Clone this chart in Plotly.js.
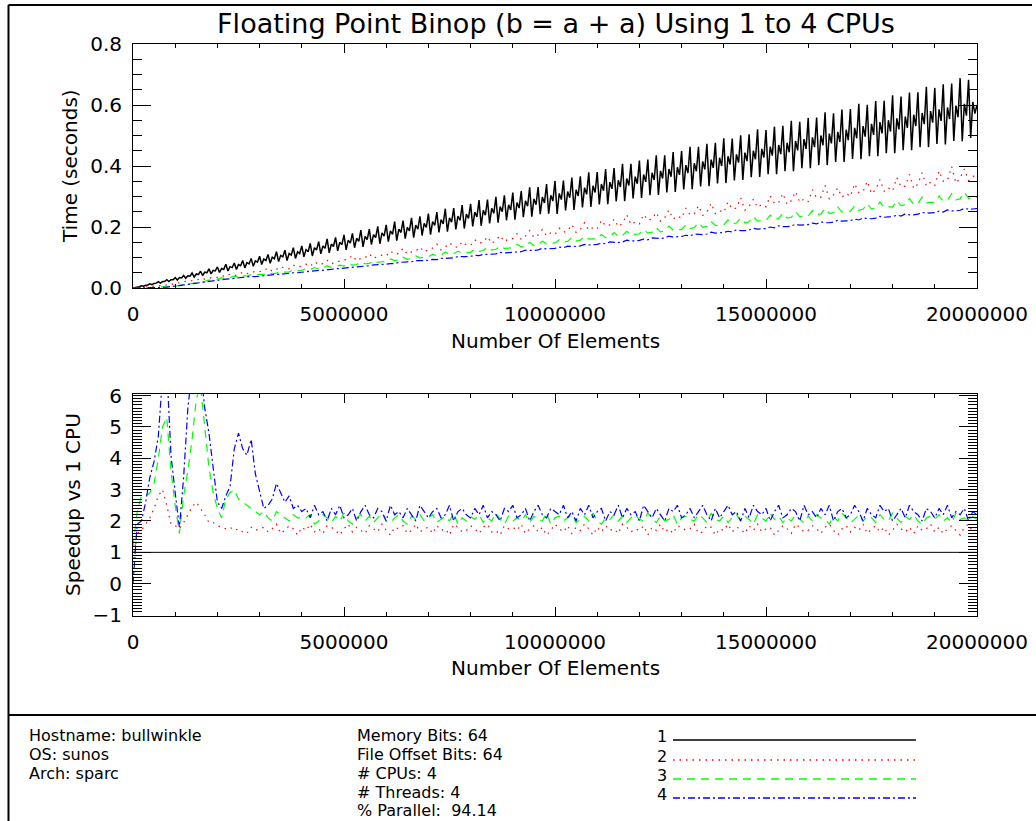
<!DOCTYPE html>
<html><head><meta charset="utf-8">
<script src="https://cdn.plot.ly/plotly-3.0.1.min.js"></script>
<style>html,body{margin:0;padding:0;background:#fff;}#chart{width:1036px;height:821px;}</style>
</head><body><div id="chart"></div>
<script>
// ---------------- DATA ----------------
const chartTitle = "Floating Point Binop (b = a + a) Using 1 to 4 CPUs";
const xAxisTitle = "Number Of Elements";
const timeAxisTitle = "Time (seconds)";
const speedAxisTitle = "Speedup vs 1 CPU";
const seriesLabels = ["1", "2", "3", "4"];
const elementRange = [0, 20000000];
const fineStep = 50000;     // elements between samples, 1 CPU timing
const coarseStep = 100000;  // elements between samples, other series

// time with 1 CPU, milliseconds
const time1cpuMs = [
0,1,3,4,7,6,9,10,14,11,15,16,21,16,21,21,27,21,27,27,
34,26,34,33,41,32,40,39,49,36,46,44,55,41,52,50,63,46,58,56,
69,51,64,61,78,56,70,67,82,61,77,73,90,66,83,79,97,71,89,85,
104,77,95,90,110,81,101,96,119,87,107,102,124,90,113,108,132,97,119,113,
138,102,126,119,146,105,132,125,152,112,138,130,161,115,144,136,166,122,150,142,
174,125,157,147,179,132,163,153,190,135,169,159,193,142,175,165,202,145,181,170,
207,152,187,176,218,155,193,182,221,162,199,187,230,165,206,193,235,172,212,199,
244,175,218,205,249,182,224,210,260,185,230,216,262,192,236,222,272,195,242,228,
276,202,249,233,288,204,255,239,290,212,261,245,299,214,267,250,304,222,273,256,
313,224,280,262,318,232,286,268,330,234,292,273,331,242,298,279,341,244,304,285,
351,243,310,290,352,254,316,296,362,256,322,302,366,264,329,307,379,266,335,313,
380,274,341,319,390,275,347,325,393,284,353,331,407,285,359,336,407,294,365,342,
418,295,372,348,421,304,378,354,435,305,384,359,435,313,390,365,446,315,396,371,
449,323,403,377,463,324,409,383,463,333,415,389,473,334,421,394,476,343,427,400,
491,344,432,405,490,353,438,411,501,354,444,416,504,363,450,422,520,364,456,428,
518,373,463,434,529,373,469,439,532,383,476,445,548,383,482,451,545,393,488,456,
557,393,494,462,559,403,500,468,576,403,506,474,573,413,512,479,585,413,519,485,
587,423,525,491,604,422,531,496,601,432,538,502,613,432,544,507,614,442,550,513,
632,442,556,520,628,452,562,525,641,452,568,531,642,462,574,537,660,462,580,542,
656,472,586,548,668,471,592,554,670,482,598,560,688,481,604,565,683,492,610,572,600];

// time with 2 CPUs, milliseconds
const time2cpuMs = [
0,1,2,3,4,6,7,7,9,11,
16,17,21,22,25,26,30,29,31,36,
35,40,38,45,41,44,52,47,50,55,
54,57,66,55,61,70,64,63,75,69,
72,78,71,86,77,80,91,79,85,88,
90,95,107,89,97,99,112,97,104,108,
105,121,111,113,130,111,118,121,134,118,
126,131,144,125,134,148,137,133,152,141,
140,158,147,150,168,146,156,172,152,161,
162,178,159,170,188,165,174,192,171,181,
176,196,183,187,208,182,192,214,190,198,
193,222,204,207,226,201,212,240,208,217,
210,241,222,226,248,219,230,256,226,236,
229,262,240,243,270,238,249,278,244,254,
248,282,259,262,296,255,268,291,264,274,
266,302,277,280,310,274,286,316,281,292,
283,322,295,298,336,292,305,328,298,310,
300,342,313,316,350,309,323,356,317,329,
318,362,331,334,372,326,341,378,334,347,
336,384,350,353,398,344,360,390,352,366,
368];

// time with 3 CPUs, milliseconds
const time3cpuMs = [
0,0,1,1,2,2,3,3,4,5,
6,9,11,12,14,18,19,22,26,27,
29,33,31,35,38,36,41,39,44,42,
45,44,50,47,49,55,52,53,59,56,
58,63,60,67,63,66,73,68,70,75,
72,79,75,77,85,79,81,89,84,86,
87,95,90,92,101,94,97,105,99,101,
102,111,105,108,118,109,112,121,114,116,
117,127,120,123,134,124,127,137,130,131,
132,143,135,138,150,139,142,153,145,147,
147,158,150,153,166,154,157,170,160,161,
162,175,165,168,182,169,172,186,175,176,
177,191,180,183,198,184,187,203,190,191,
192,207,195,198,214,199,202,218,205,206,
207,223,210,213,229,214,217,234,219,221,
221,239,225,228,245,229,232,250,234,236,
236,254,240,243,261,244,247,266,249,251,
251,270,255,258,277,259,262,282,264,266,
266,286,270,273,293,274,277,298,279,281,
281,302,285,288,309,289,292,314,294,296,
296];

// time with 4 CPUs, milliseconds
const time4cpuMs = [
0,0,0,1,1,1,2,2,3,4,
5,8,10,12,14,17,18,20,23,24,
26,28,29,30,32,33,34,36,38,37,
39,40,41,44,45,45,47,49,50,50,
52,54,54,57,58,58,60,63,63,64,
65,67,67,70,71,71,73,76,76,77,
78,80,80,84,84,84,86,90,89,90,
91,94,93,97,97,97,99,103,102,103,
104,107,106,110,110,110,112,117,115,116,
117,120,119,124,123,123,125,130,128,129,
130,134,132,137,136,136,138,143,141,142,
143,147,145,151,149,149,151,157,154,155,
156,160,158,164,162,162,164,170,167,168,
169,173,171,177,175,175,177,183,180,181,
182,186,184,191,188,188,190,196,193,194,
195,200,197,204,201,201,203,209,206,207,
208,213,210,217,214,214,216,222,219,220,
221,226,223,230,227,227,229,235,232,233,
234,239,236,243,240,240,242,248,245,246,
247,252,249,256,253,253,255,261,258,259,
260];

// speedup vs 1 CPU
const speedup1cpu = [1, 1];
const speedup2cpu = [
0.8,1.6,1.7,1.9,2.1,2.4,2.8,3.0,2.5,1.9,
1.85,1.75,1.95,2.2,2.45,2.6,2.4,2.2,1.95,1.95,
1.85,1.8,1.75,1.8,1.7,1.75,1.65,1.6,1.8,1.7,1.75,
1.8,1.65,1.75,1.9,1.6,1.7,1.85,1.75,1.55,1.8,
1.7,1.9,1.65,1.75,1.6,1.85,1.8,1.7,1.55,1.75,
1.9,1.65,1.8,1.7,1.6,1.85,1.75,1.65,1.9,1.7,
1.55,1.8,1.75,1.85,1.6,1.7,1.9,1.65,1.75,1.8,
1.6,1.85,1.7,1.75,1.55,1.9,1.8,1.65,1.7,1.85,
1.75,1.6,1.8,1.9,1.65,1.7,1.55,1.85,1.75,1.8,
1.7,1.9,1.6,1.75,1.85,1.65,1.8,1.55,1.7,1.9,
1.75,1.65,1.85,1.6,1.8,1.7,1.9,1.75,1.55,1.8,
1.65,1.85,1.7,1.75,1.6,1.9,1.8,1.65,1.75,1.7,
1.85,1.55,1.8,1.7,1.9,1.65,1.75,1.6,1.85,1.8,
1.7,1.75,1.9,1.6,1.65,1.85,1.8,1.55,1.75,1.7,
1.9,1.65,1.8,1.75,1.6,1.85,1.7,1.9,1.65,1.75,
1.8,1.55,1.7,1.85,1.75,1.6,1.9,1.8,1.65,1.7,
1.85,1.75,1.6,1.8,1.9,1.7,1.55,1.75,1.85,1.65,
1.8,1.7,1.9,1.6,1.75,1.85,1.65,1.8,1.55,1.7,
1.9,1.75,1.65,1.8,1.6,1.85,1.7,1.75,1.9,1.65,
1.8,1.6,1.75,1.85,1.7,1.55,1.8,1.9,1.65,1.75];
const speedup3cpu = [
1.2,2.3,2.8,2.8,2.9,3.2,4.0,5.0,5.3,3.6,
2.5,1.6,2.8,3.6,4.6,5.9,6.3,5.0,3.7,2.9,
2.4,2.1,2.7,2.9,3.0,2.7,2.6,2.5,2.4,2.3,
2.2,2.3,2.1,2.0,2.3,2.2,2.1,2.0,2.2,2.1,2.1,
2.1,2.2,1.9,2.0,2.2,2.1,1.95,2.15,2.0,2.25,
2.0,1.9,2.1,2.2,2.0,2.15,1.95,2.1,2.25,2.0,
1.95,2.1,2.2,2.0,1.9,2.15,2.05,2.2,2.0,2.1,
2.2,1.95,2.05,2.15,2.0,2.25,1.9,2.1,2.0,2.15,
2.05,2.2,1.95,2.1,2.0,2.25,2.05,1.9,2.15,2.0,
2.1,2.0,2.2,1.95,2.15,2.05,2.0,2.25,1.9,2.1,
2.15,2.0,2.1,2.2,1.95,2.05,2.15,2.0,2.25,2.0,
1.9,2.1,2.05,2.2,2.0,2.15,1.95,2.1,2.2,2.05,
2.0,2.25,2.1,1.95,2.15,2.0,2.05,2.2,1.9,2.1,
2.15,2.05,2.0,2.2,2.1,1.95,2.25,2.05,2.0,2.15,
1.95,2.1,2.2,2.0,2.15,2.05,1.9,2.2,2.1,2.0,
2.25,2.05,2.15,1.95,2.1,2.0,2.2,2.05,1.95,2.15,
2.0,2.2,2.1,2.05,1.9,2.15,2.0,2.25,2.1,1.95,
2.05,2.2,2.0,2.15,2.1,1.95,2.2,2.05,2.0,2.25,
2.1,1.95,2.15,2.05,2.2,2.0,1.9,2.1,2.15,2.05,
2.2,2.0,2.1,1.95,2.25,2.05,2.1,2.0,2.15,2.05];
const speedup4cpu = [
0.0,1.9,2.0,2.6,3.4,3.9,4.7,6.6,6.9,4.1,
2.9,1.8,3.4,5.6,6.8,7.2,6.9,5.6,4.8,3.6,
2.6,2.4,2.8,3.1,4.3,4.8,4.3,4.1,4.6,3.5,
2.9,2.4,2.5,2.7,3.2,2.9,2.6,2.8,2.4,2.5,2.3,
2.4,2.1,2.5,2.2,2.3,2.0,2.4,2.2,2.5,2.1,
2.2,2.4,2.0,2.3,2.5,2.2,2.1,2.4,2.3,2.0,
2.5,2.2,2.3,2.1,2.4,2.2,2.0,2.5,2.3,2.1,
2.3,2.4,2.1,2.2,2.5,2.0,2.3,2.4,2.2,2.1,
2.4,2.2,2.5,2.1,2.3,2.2,2.0,2.4,2.3,2.5,
2.1,2.2,2.4,2.0,2.3,2.5,2.2,2.1,2.4,2.3,
2.2,2.5,2.1,2.3,2.0,2.4,2.2,2.5,2.1,2.3,
2.4,2.0,2.3,2.2,2.5,2.1,2.4,2.2,2.3,2.0,
2.5,2.3,2.1,2.4,2.2,2.0,2.4,2.3,2.5,2.1,
2.2,2.4,2.1,2.3,2.5,2.2,2.0,2.4,2.1,2.3,
2.5,2.2,2.3,2.0,2.4,2.1,2.5,2.3,2.2,2.4,
2.0,2.3,2.5,2.1,2.2,2.4,2.3,2.0,2.5,2.2,
2.3,2.1,2.4,2.2,2.5,2.0,2.3,2.4,2.1,2.2,
2.5,2.3,2.0,2.4,2.2,2.1,2.5,2.3,2.4,2.0,
2.2,2.4,2.1,2.5,2.3,2.2,2.0,2.4,2.3,2.1,
2.4,2.2,2.5,2.1,2.3,2.2,2.4,2.0,2.3,2.2];

const hostInfo = ["Hostname: bullwinkle", "OS: sunos", "Arch: sparc"];
const runInfo = ["Memory Bits: 64", "File Offset Bits: 64", "# CPUs: 4", "# Threads: 4", "% Parallel:\u00a0\u00a094.14"];

// ---------------- STYLE / LAYOUT ----------------
const W = 1036, H = 821;
const FONT = "DejaVu Sans, Liberation Sans, sans-serif";
const colors = ["#000000", "#ff0000", "#00ff00", "#0000ff"];
const widths = [1.5, 1.2, 1.2, 1.2];
const dashes = ["solid", "1.5px,5px", "8px,6px", "7px,3px,2px,3px"];
const px = v => v / W;
const py = v => 1 - v / H;
const ms = a => a.map(v => v / 1000);

const traces = [
  {x0: 0, dx: fineStep, y: ms(time1cpuMs), xaxis: 'x', yaxis: 'y'},
  {x0: 0, dx: coarseStep, y: ms(time2cpuMs), xaxis: 'x', yaxis: 'y'},
  {x0: 0, dx: coarseStep, y: ms(time3cpuMs), xaxis: 'x', yaxis: 'y'},
  {x0: 0, dx: coarseStep, y: ms(time4cpuMs), xaxis: 'x', yaxis: 'y'},
  {x: elementRange, y: speedup1cpu, xaxis: 'x2', yaxis: 'y2'},
  {x0: 0, dx: coarseStep, y: speedup2cpu, xaxis: 'x2', yaxis: 'y2'},
  {x0: 0, dx: coarseStep, y: speedup3cpu, xaxis: 'x2', yaxis: 'y2'},
  {x0: 0, dx: coarseStep, y: speedup4cpu, xaxis: 'x2', yaxis: 'y2'}
].map((t, i) => Object.assign({
  type: 'scatter', mode: 'lines', showlegend: false, hoverinfo: 'skip',
  name: seriesLabels[i % 4],
  line: {color: colors[i % 4], width: i === 4 ? 1 : widths[i % 4], dash: dashes[i % 4]}
}, t));

function axis(extra) {
  return Object.assign({
    showline: true, linecolor: '#000', linewidth: 1, mirror: 'ticks',
    ticks: 'inside', tickcolor: '#000', tickwidth: 1,
    showgrid: false, zeroline: false, automargin: false, fixedrange: true,
    tickfont: {family: FONT, size: 20, color: '#000'}
  }, extra);
}
const xDomain = [px(133), px(977)];
const xCommon = {range: elementRange, tick0: 0, dtick: 5000000, tickformat: 'd', ticklen: 9,
  ticklabelstandoff: 8,
  minor: {dtick: 1000000, ticklen: 4, ticks: 'inside', tickcolor: '#000'}};

const layout = {
  width: W, height: H, margin: {l: 0, r: 0, t: 0, b: 0},
  paper_bgcolor: '#fff', plot_bgcolor: '#fff',
  font: {family: FONT, color: '#000'},
  title: {text: chartTitle, x: px(556), xref: 'paper', xanchor: 'center',
          y: py(24), yref: 'paper', yanchor: 'middle', font: {family: FONT, size: 27, color: '#000'}},
  xaxis: axis(Object.assign({domain: xDomain, anchor: 'y'}, xCommon)),
  yaxis: axis({domain: [py(288), py(44)], anchor: 'x', range: [0, 0.8], dtick: 0.2, tick0: 0,
    tickformat: '.1f', ticklen: 18, ticklabelstandoff: 6,
    minor: {dtick: 0.05, ticklen: 9, ticks: 'inside', tickcolor: '#000'}}),
  xaxis2: axis(Object.assign({domain: xDomain, anchor: 'y2'}, xCommon)),
  yaxis2: axis({domain: [py(616), py(394)], anchor: 'x2', range: [-1.03, 6.05], dtick: 1, tick0: 0,
    ticklen: 18, ticklabelstandoff: 6,
    minor: {dtick: 0.1, ticklen: 9, ticks: 'inside', tickcolor: '#000'}}),
  annotations: [],
  shapes: [
    {type: 'line', xref: 'paper', yref: 'paper', x0: px(8.5), x1: px(1032), y0: py(5), y1: py(5), line: {color: '#000', width: 2}},
    {type: 'line', xref: 'paper', yref: 'paper', x0: px(8.5), x1: px(8.5), y0: py(5), y1: 0, line: {color: '#000', width: 2}},
    {type: 'line', xref: 'paper', yref: 'paper', x0: px(8.5), x1: 1, y0: py(715), y1: py(715), line: {color: '#000', width: 2}}
  ]
};

function note(text, x, y, opts) {
  layout.annotations.push(Object.assign({
    text: text, xref: 'paper', yref: 'paper', x: px(x), y: py(y),
    xanchor: 'left', yanchor: 'middle', showarrow: false, borderpad: 0,
    font: {family: FONT, size: 16, color: '#000'}
  }, opts || {}));
}
note(xAxisTitle, 555, 341, {xanchor: 'center', font: {family: FONT, size: 20, color: '#000'}});
note(xAxisTitle, 555, 668, {xanchor: 'center', font: {family: FONT, size: 20, color: '#000'}});
note(timeAxisTitle, 70, 166, {xanchor: 'center', textangle: -90, font: {family: FONT, size: 20, color: '#000'}});
note(speedAxisTitle, 73, 505, {xanchor: 'center', textangle: -90, font: {family: FONT, size: 20, color: '#000'}});

const rowY = [735, 754, 773, 792, 810];
hostInfo.forEach((t, i) => note(t, 28, rowY[i]));
runInfo.forEach((t, i) => note(t, 356, rowY[i]));
const legendLineY = [740, 760, 779, 798];
seriesLabels.forEach((lab, i) => {
  note(lab, 668, legendLineY[i] - 4, {xanchor: 'right'});
  layout.shapes.push({type: 'line', xref: 'paper', yref: 'paper', x0: px(673), x1: px(916),
    y0: py(legendLineY[i]), y1: py(legendLineY[i]),
    line: {color: colors[i], width: 1.5, dash: dashes[i]}});
});

Plotly.newPlot('chart', traces, layout, {displayModeBar: false, staticPlot: true});
</script></body></html>
